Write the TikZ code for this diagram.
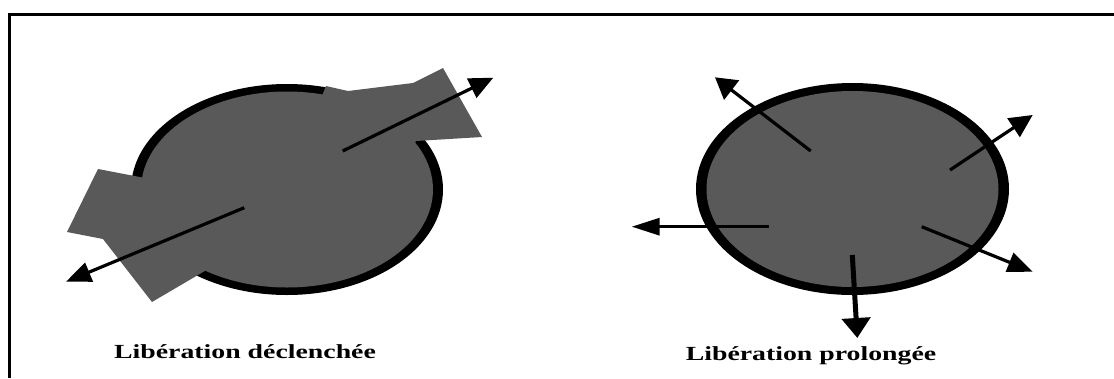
\documentclass[tikz,border=0pt]{standalone}
\usepackage{fontspec}
\setmainfont{Liberation Serif}
\usetikzlibrary{arrows.meta}
\definecolor{blobgray}{RGB}{89,89,89}
\tikzset{
  ray/.style 2 args={line width=3.2pt, -{Triangle[length=#1pt, width=#2pt]}},
  caption/.style={anchor=base, inner sep=0pt, font=\bfseries\fontsize{20}{24}\selectfont},
}
\begin{document}
\begin{tikzpicture}[x=1pt,y=-1pt]
  \useasboundingbox (0,0) rectangle (1114,378);
  \draw[line width=3pt] (9,378) -- (9,14) -- (1114,14);

  % triggered release
  \fill[black] (287,189.5) ellipse [x radius=156pt, y radius=105.5pt];
  \fill[blobgray] (287,189.5) ellipse [x radius=146pt, y radius=98pt];
  \fill[blobgray] (98,169) -- (67,232) -- (103,239) -- (152,302) -- (215,265) -- (250,200) -- (145,178) -- cycle;
  \fill[blobgray] (326,86) -- (348,91) -- (413,83) -- (443,68) -- (482,137) -- (416,141) -- (400,170) -- (300,150) -- cycle;
  \coordinate (trigInA) at (342.7,151);
  \coordinate (trigOutA) at (493.3,77.7);
  \coordinate (trigInB) at (244.3,207.7);
  \coordinate (trigOutB) at (66,281.7);
  \draw[ray={24}{21}] (trigInA) -- (trigOutA);
  \draw[ray={25}{20}] (trigInB) -- (trigOutB);
  \node[caption] (trig) at (245,358.5) {\scalebox{1.39}[1]{Libération déclenchée}};

  % prolonged release
  \fill[black] (852.5,189) ellipse [x radius=156.5pt, y radius=106pt];
  \fill[blobgray] (852.5,189) ellipse [x radius=146pt, y radius=98pt];
  \coordinate (prolInA) at (810.7,151);
  \coordinate (prolOutA) at (715,77.3);
  \coordinate (prolInB) at (769.3,226.7);
  \coordinate (prolOutB) at (631.7,226.7);
  \coordinate (prolInC) at (852.3,255);
  \coordinate (prolOutC) at (857.3,338);
  \coordinate (prolInD) at (950,170);
  \coordinate (prolOutD) at (1032.7,115);
  \coordinate (prolInE) at (921.7,226.7);
  \coordinate (prolOutE) at (1032.7,271.7);
  \draw[ray={21}{24}] (prolInA) -- (prolOutA);
  \draw[ray={28}{17}] (prolInB) -- (prolOutB);
  \draw[ray={20}{28}, line width=5pt] (prolInC) -- (prolOutC);
  \draw[ray={23}{22}] (prolInD) -- (prolOutD);
  \draw[ray={25}{20}] (prolInE) -- (prolOutE);
  \node[caption] (prol) at (811,360) {\scalebox{1.39}[1]{Libération prolongée}};
\end{tikzpicture}
\end{document}
